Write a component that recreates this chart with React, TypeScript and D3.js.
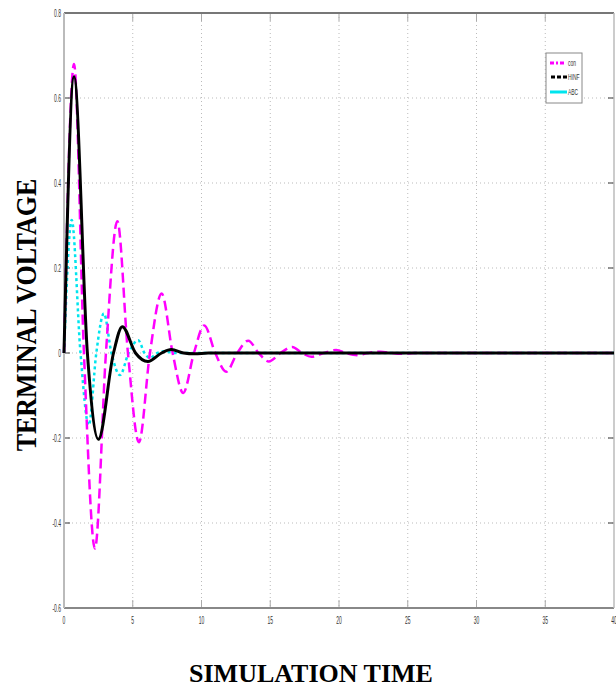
import React from "react";
import * as d3 from "d3";

const xTicks = [0, 5, 10, 15, 20, 25, 30, 35, 40];
const yTicks = [0.8, 0.6, 0.4, 0.2, 0, -0.2, -0.4, -0.6];
const yTickLabels = ["0.8", "0.6", "0.4", "0.2", "0", "-0.2", "-0.4", "-0.6"];

const conT = [0, 0.73, 1.45, 2.25, 3.05, 3.88, 4.65, 5.45, 6.25, 7.1, 7.9, 8.67, 9.45, 10.2, 11.0, 11.8, 12.6, 13.4, 14.15, 14.9, 15.75, 16.6, 17.3, 18.0, 18.9, 19.8, 20.5, 21.3, 22.1, 23.0, 23.8, 24.5, 25.5, 40];
const conV = [0, 0.68, 0, -0.46, 0, 0.31, 0, -0.21, 0, 0.14, 0, -0.094, 0, 0.065, 0, -0.044, 0, 0.029, 0, -0.02, 0, 0.014, 0, -0.009, 0, 0.007, 0, -0.005, 0, 0.003, 0, -0.002, 0, 0];

const hinfT = [0, 0.73, 1.7, 2.5, 3.6, 4.24, 5.2, 6.1, 7.1, 7.8, 8.7, 9.5, 10.5, 40];
const hinfV = [0, 0.65, 0, -0.203, 0, 0.062, 0, -0.02, 0, 0.008, 0, -0.002, 0, 0];

const abcT = [0, 0.56, 1.2, 1.8, 2.35, 2.9, 3.45, 4.07, 4.7, 5.4, 5.85, 6.25, 6.8, 7.3, 8, 40];
const abcV = [0, 0.313, 0, -0.17, 0, 0.093, 0, -0.052, 0, 0.03, 0, -0.012, 0, 0.004, 0, 0];

const legendNames = ["con", "HINF", "ABC"];

const W = 616, H = 688;
const L = 64, R = 614, T = 13, B = 608;

export default function App() {
  const x = d3.scaleLinear().domain([0, 40]).range([L, R]);
  const y = d3.scaleLinear().domain([-0.6, 0.8]).range([B, T]);
  const line = d3.line<[number, number]>().x(d => x(d[0])).y(d => y(d[1])).curve(d3.curveMonotoneX);
  const zip = (t: number[], v: number[]) => t.map((tt, i) => [tt, v[i]] as [number, number]);

  const tickFont = "Liberation Sans, Arial, sans-serif";

  return (
    <svg width={W} height={H} style={{ position: "absolute", left: 0, top: 0, background: "#fff" }}>
      <rect x={0} y={0} width={W} height={H} fill="#fff" />
      {xTicks.slice(1, -1).map(t => (
        <line key={"gx" + t} x1={x(t)} x2={x(t)} y1={T} y2={B} stroke="#bbb" strokeWidth={1} strokeDasharray="1,3" />
      ))}
      {yTicks.slice(1, -1).map(t => (
        <line key={"gy" + t} x1={L} x2={R} y1={y(t)} y2={y(t)} stroke="#bbb" strokeWidth={1} strokeDasharray="1,3" />
      ))}
      {xTicks.slice(1, -1).map(t => (
        <g key={"tx" + t}>
          <line x1={x(t)} x2={x(t)} y1={B} y2={B - 8} stroke="#aaa" strokeWidth={1} />
          <line x1={x(t)} x2={x(t)} y1={T} y2={T + 8} stroke="#aaa" strokeWidth={1} />
        </g>
      ))}
      {yTicks.slice(1, -1).map(t => (
        <g key={"ty" + t}>
          <line x1={L} x2={L + 6} y1={y(t)} y2={y(t)} stroke="#555" strokeWidth={1.2} />
          <line x1={R} x2={R - 6} y1={y(t)} y2={y(t)} stroke="#555" strokeWidth={1.2} />
        </g>
      ))}
      <line x1={L} x2={R} y1={T} y2={T} stroke="#777" strokeWidth={2} />
      <line x1={L} x2={R} y1={B} y2={B} stroke="#888" strokeWidth={2} />
      <line x1={L} x2={L} y1={T} y2={B} stroke="#bbb" strokeWidth={2} />
      <line x1={R} x2={R} y1={T} y2={B} stroke="#bbb" strokeWidth={1.5} />
      {yTicks.map((t, i) => (
        <text key={"yl" + t} transform={`translate(${L - 3},${y(t) + 3.5}) scale(0.5,1)`} textAnchor="end"
          fontFamily={tickFont} fontSize={10} fill="#333">{yTickLabels[i]}</text>
      ))}
      {xTicks.map(t => (
        <text key={"xl" + t} transform={`translate(${x(t)},${B + 16}) scale(0.5,1)`} textAnchor="middle"
          fontFamily={tickFont} fontSize={10} fill="#333">{t}</text>
      ))}
      <path d={line(zip(abcT, abcV)) || ""} fill="none" stroke="#00e5ee" strokeWidth={2.5} strokeDasharray="3,3" />
      <path d={line(zip(conT, conV)) || ""} fill="none" stroke="#ff00ff" strokeWidth={2.5} strokeDasharray="10,5" />
      <path d={line(zip(hinfT, hinfV)) || ""} fill="none" stroke="#000" strokeWidth={3} />
      <g>
        <rect x={546} y={53} width={36} height={50} fill="#fff" stroke="#888" strokeWidth={1} />
        <line x1={550} x2={566} y1={63} y2={63} stroke="#ff00ff" strokeWidth={3} strokeDasharray="4,2,2,2" />
        <line x1={551} x2={567} y1={77} y2={77} stroke="#000" strokeWidth={3} strokeDasharray="4,2" />
        <line x1={550} x2={567} y1={92} y2={92} stroke="#00e5ee" strokeWidth={3} />
        {legendNames.map((n, i) => (
          <text key={n} transform={`translate(568,${65.5 + i * 14.5}) scale(0.55,1)`} fontFamily={tickFont}
            fontSize={9} fill="#333">{n}</text>
        ))}
      </g>
      <text x={311} y={682} textAnchor="middle" fontFamily="Liberation Serif, Times New Roman, serif"
        fontWeight="bold" fontSize={26} fill="#000">SIMULATION TIME</text>
      <text transform="translate(36,315) rotate(-90) scale(1,1.15)" textAnchor="middle"
        fontFamily="Liberation Serif, Times New Roman, serif" fontWeight="bold" fontSize={26} fill="#000">TERMINAL VOLTAGE</text>
    </svg>
  );
}
